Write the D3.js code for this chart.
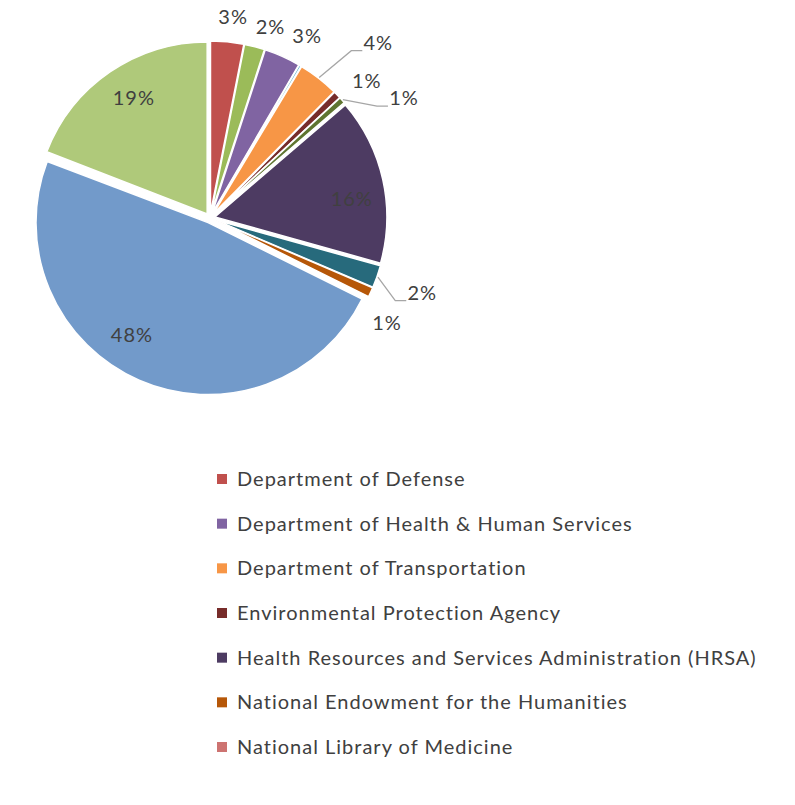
<!DOCTYPE html>
<html>
<head>
<meta charset="utf-8">
<script src="https://cdn.jsdelivr.net/npm/d3@7"></script>
<style>
  body { margin: 0; background: #fff; }
  svg text { font-family: Lato, "Open Sans", sans-serif; fill: #404040; letter-spacing: 1px; }
</style>
</head>
<body>
<div id="chart"></div>
<script>
// slice order, clockwise from 12 o'clock (percent of total)
const sliceValues = [0, 3.1, 1.9, 3.4, 0.2, 3.8, 0, 0.7, 0.6, 15.6, 2.1, 0.9, 48.4, 0.1, 19.1];
const sliceColors = ['#4F81BD', '#C0504D', '#9BBB59', '#8064A2', '#4BACC6', '#F79646',
                     '#2C4D75', '#772C2A', '#5F7530', '#4D3B62', '#276A7C', '#B65708',
                     '#729ACA', '#CD7371', '#AFC97A'];

// legend shows only these entries (index into the slices)
const legendNames = ['Department of Defense', 'Department of Health & Human Services',
                     'Department of Transportation', 'Environmental Protection Agency',
                     'Health Resources and Services Administration (HRSA)',
                     'National Endowment for the Humanities', 'National Library of Medicine'];
const legendSlices = [1, 3, 5, 7, 9, 11, 13];

const width = 795, height = 805;
const cx = 210, cy = 218, R = 172, explode = 5;

// label tweaks: angle nudge (deg), radius, leader line
const labelLayout = {
  1: {da: 1, r: 202}, 2: {da: 3, r: 200}, 3: {da: 4, r: 206},
  5: {da: 6, r: 243, leader: true}, 7: {da: 3, r: 208},
  8: {da: 10, r: 228, leader: true}, 9: {da: 5, r: 143},
  10: {da: 0, r: 225, leader: true}, 11: {da: 6, r: 206},
  12: {da: 10, r: 141}, 14: {da: 2, r: 142}
};

const svg = d3.select('#chart').append('svg')
  .attr('width', width).attr('height', height);

const chart = svg.append('g').attr('transform', `translate(${cx},${cy})`);

const pie = d3.pie().value(d => d).sort(null);
const arcs = pie(sliceValues);
const arc = d3.arc().innerRadius(0).outerRadius(R);

const polar = (a, r) => [Math.sin(a) * r, -Math.cos(a) * r];
const mid = d => (d.startAngle + d.endAngle) / 2;

chart.selectAll('path.slice')
  .data(arcs.filter(d => d.value > 0))
  .join('path')
  .classed('slice', true)
  .attr('d', arc)
  .attr('transform', d => `translate(${polar(mid(d), explode)})`)
  .attr('fill', d => sliceColors[d.index])
  .attr('stroke', '#fff')
  .attr('stroke-width', 1.5);

// data labels
const labelled = arcs.filter(d => labelLayout[d.index]);
labelled.forEach(d => {
  const lay = labelLayout[d.index];
  const a = mid(d) + lay.da * Math.PI / 180;
  const [lx, ly] = polar(a, lay.r);
  chart.append('text')
    .attr('x', lx).attr('y', ly)
    .attr('dy', '0.35em')
    .attr('text-anchor', 'middle')
    .style('font-size', '20px')
    .text(d3.format('.0f')(d.value) + '%');
  if (lay.leader) {
    const [sx, sy] = polar(mid(d), R + explode + 1);
    const ex = lx - 16, ey = ly + 8;
    chart.append('polyline')
      .attr('points', [[sx, sy], [ex - 11, ey], [ex, ey]].map(p => p.join(',')).join(' '))
      .attr('fill', 'none')
      .attr('stroke', '#A6A6A6')
      .attr('stroke-width', 1.3);
  }
});

// legend
const legendY = d3.scalePoint().domain(legendNames).range([479, 747]);
const legend = svg.append('g').attr('transform', 'translate(217,0)');
const items = legend.selectAll('g.item')
  .data(legendNames)
  .join('g')
  .classed('item', true)
  .attr('transform', d => `translate(0,${legendY(d)})`);
items.append('rect')
  .attr('x', 0).attr('y', -5).attr('width', 10).attr('height', 10)
  .attr('fill', (d, i) => sliceColors[legendSlices[i]]);
items.append('text')
  .attr('x', 20).attr('dy', '0.35em')
  .style('font-size', '20px')
  .text(d => d);
</script>
</body>
</html>
